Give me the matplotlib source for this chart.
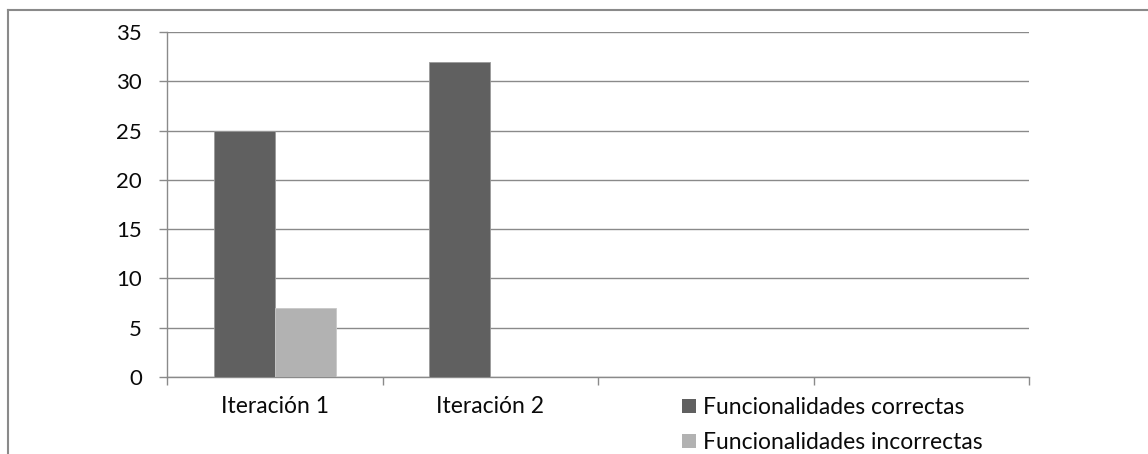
import numpy as np
import matplotlib.pyplot as plt
from matplotlib.lines import Line2D
from matplotlib.patches import Patch

categorias = ["Iteración 1", "Iteración 2", "", ""]
correctas = [25, 32, np.nan, np.nan]
incorrectas = [7, 0, np.nan, np.nan]
series = ["Funcionalidades correctas", "Funcionalidades incorrectas"]

color_oscuro = '#606060'
color_claro = '#b2b2b2'
gris_linea = '#8a8a8a'

plt.rcParams['font.family'] = ['Lato', 'DejaVu Sans']

fig = plt.figure(figsize=(11.48, 4.54), dpi=100)
ax = fig.add_axes([0.1455, 0.1696, 0.7509, 0.7599])

x = np.arange(len(categorias))
ancho = 0.283
ax.bar(x - ancho / 2, correctas, ancho, color=color_oscuro, edgecolor='#9a9a9a', linewidth=0.6, zorder=3)
ax.bar(x + ancho / 2, incorrectas, ancho, color=color_claro, edgecolor='#c8c8c8', linewidth=0.6, zorder=3)

ax.set_xlim(-0.5, len(categorias) - 0.5)
ax.set_ylim(0, 35)
ax.set_yticks(range(0, 36, 5))
ax.set_xticks(x)
ax.set_xticklabels(categorias)
ax.set_xticks(np.arange(len(categorias) + 1) - 0.5, minor=True)

ax.yaxis.grid(True, color=gris_linea, linewidth=1.0, zorder=0)
ax.set_axisbelow(True)

for lado in ['top', 'right']:
    ax.spines[lado].set_visible(False)
for lado in ['left', 'bottom']:
    ax.spines[lado].set_color(gris_linea)
    ax.spines[lado].set_linewidth(1.0)

tam = 16.5
ax.tick_params(axis='y', which='major', length=6, width=1.0, color=gris_linea,
               pad=12, labelsize=16, labelcolor='#0a0a0a')
ax.tick_params(axis='x', which='major', length=0, pad=14, labelsize=tam, labelcolor='#0a0a0a')
ax.tick_params(axis='x', which='minor', length=6, width=1.0, color=gris_linea)

# leyenda debajo del eje, a la derecha
handles = [Patch(facecolor=color_oscuro, edgecolor='none'),
           Patch(facecolor=color_claro, edgecolor='none')]
fig.legend(handles, series, loc='upper left', bbox_to_anchor=(0.594, 0.125),
           frameon=False, fontsize=tam, handlelength=0.6, handleheight=0.6,
           handletextpad=0.32, labelspacing=0.6, borderpad=0, borderaxespad=0,
           labelcolor='#0a0a0a')

# marco exterior del gráfico
fig.add_artist(Line2D([7.5 / 1148, 7.5 / 1148], [0, 444 / 454], transform=fig.transFigure,
                      color=gris_linea, linewidth=1.5))
fig.add_artist(Line2D([7.5 / 1148, 1], [444 / 454, 444 / 454], transform=fig.transFigure,
                      color=gris_linea, linewidth=1.5))

fig.savefig('out.png', dpi=100, facecolor='white')
